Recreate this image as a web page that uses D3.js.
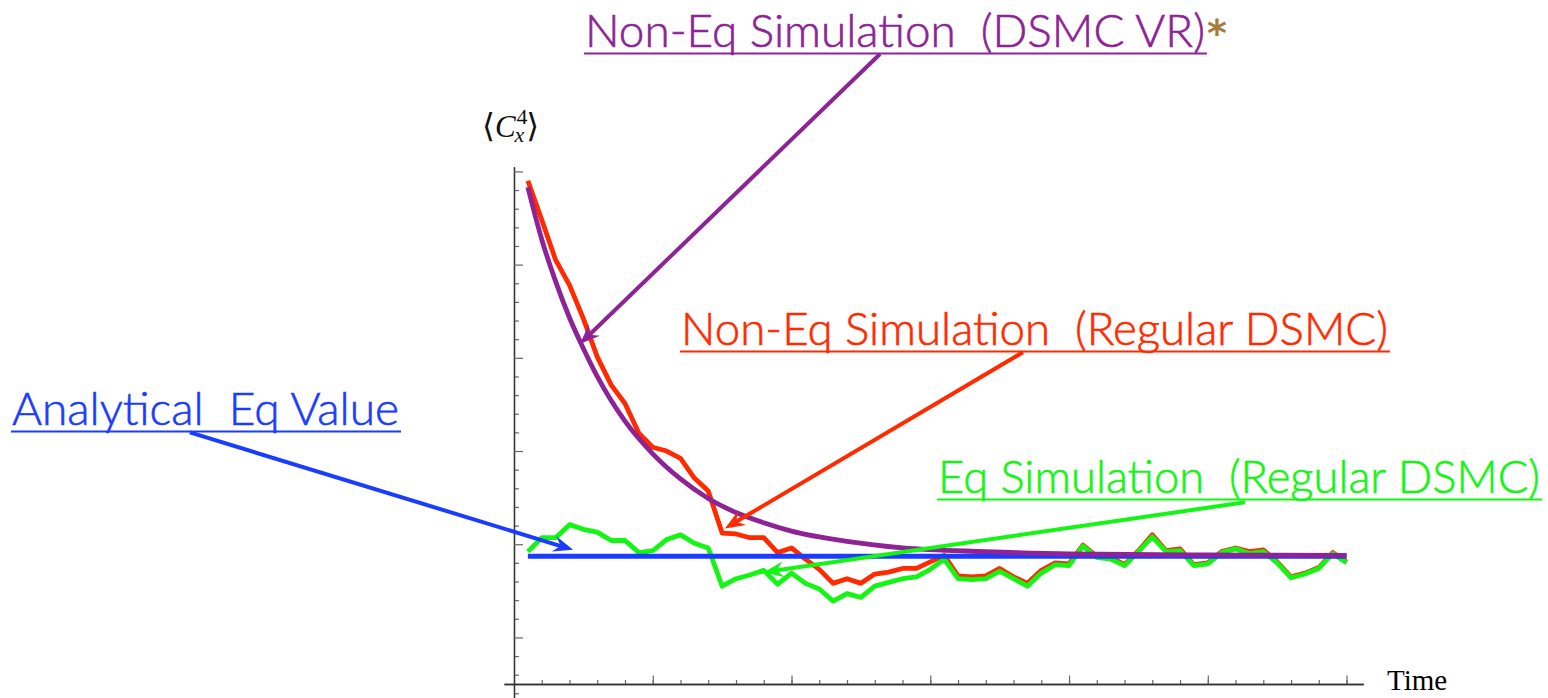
<!DOCTYPE html>
<html>
<head>
<meta charset="utf-8">
<script src="https://cdn.jsdelivr.net/npm/d3@7"></script>
<style>
  body { margin: 0; background: #fff; }
  svg { display: block; }
</style>
</head>
<body>
<div class="chart"></div>
<script>
const w = 1548;
const h = 698;

// time grid of the simulations
const times = [
  0.5, 1, 1.5, 2, 2.5, 3, 3.5, 4, 4.5, 5, 5.5, 6, 6.5, 7, 7.5, 8, 8.5, 9, 9.5, 10,
  10.5, 11, 11.5, 12, 12.5, 13, 13.5, 14, 14.5, 15, 15.5, 16, 16.5, 17, 17.5, 18, 18.5, 19, 19.5, 20,
  20.5, 21, 21.5, 22, 22.5, 23, 23.5, 24, 24.5, 25, 25.5, 26, 26.5, 27, 27.5, 28, 28.5, 29, 29.5, 30
];

// Eq Simulation (Regular DSMC)
const eqSim = [
  1.92, 2.07, 2.07, 2.21, 2.16, 2.13, 2.04, 2.04, 1.91, 1.93,
  2.05, 2.10, 2.01, 1.96, 1.55, 1.63, 1.67, 1.72, 1.57, 1.69,
  1.58, 1.52, 1.39, 1.47, 1.43, 1.55, 1.59, 1.63, 1.65, 1.73,
  1.84, 1.63, 1.62, 1.63, 1.71, 1.63, 1.55, 1.69, 1.78, 1.77,
  1.98, 1.86, 1.84, 1.77, 1.92, 2.08, 1.92, 1.93, 1.77, 1.79,
  1.91, 1.95, 1.90, 1.92, 1.80, 1.64, 1.68, 1.74, 1.90, 1.80
];

// Non-Eq Simulation (Regular DSMC)
const nonEqSim = [
  5.90, 5.48, 5.05, 4.78, 4.42, 4.01, 3.71, 3.51, 3.19, 3.04,
  3.00, 2.92, 2.71, 2.57, 2.12, 2.11, 2.07, 2.07, 1.91, 1.96,
  1.84, 1.73, 1.58, 1.63, 1.58, 1.68, 1.70, 1.74, 1.74, 1.81,
  1.88, 1.66, 1.65, 1.66, 1.74, 1.65, 1.58, 1.72, 1.80, 1.79,
  1.99, 1.87, 1.86, 1.78, 1.93, 2.10, 1.93, 1.95, 1.78, 1.80,
  1.92, 1.96, 1.92, 1.94, 1.81, 1.65, 1.69, 1.75, 1.91, 1.81
];

// Non-Eq Simulation (DSMC VR), smooth curve
const vrTimes = [0.5, 1, 1.5, 2, 2.5, 3, 4, 5, 6, 7, 8, 9, 10, 12, 14, 17, 20, 25, 30];
const vrSim = [5.83, 5.27, 4.82, 4.43, 4.10, 3.80, 3.32, 2.97, 2.70, 2.49, 2.34, 2.23, 2.14, 2.03, 1.96, 1.92, 1.895, 1.885, 1.88];

// Analytical Eq Value
const analyticalEq = 1.87;
const eqRange = [0.5, 30];

const xMinorTicks = d3.range(1, 31);
const xMajorTicks = [5, 10, 15, 20, 25, 30];
const yMinorTicks = [0.4, 0.6, 0.8, 1.2, 1.4, 1.6, 1.8, 2.2, 2.4, 2.6, 2.8, 3.2, 3.4, 3.6, 3.8,
  4.2, 4.4, 4.6, 4.8, 5.2, 5.4, 5.6, 5.8];
const yMajorTicks = [1, 2, 3, 4, 5, 6];

const purple = '#8d2396';
const red = '#ff2a00';
const green = '#14f514';
const blue = '#1a3cff';

const svg = d3
  .select('.chart')
  .append('svg')
  .attr('width', w)
  .attr('height', h);

const xScale = d3.scaleLinear().domain([-0.36, 30.6]).range([504, 1363.2]);
const yScale = d3.scaleLinear().domain([0.35, 6.05]).range([698, 166.76]);

// axes
const xAxisY = yScale(0.5);
const yAxisX = xScale(0);

const xMinor = d3.axisBottom(xScale).tickValues(xMinorTicks).tickSize(-4).tickSizeOuter(0).tickFormat('');
const xMajor = d3.axisBottom(xScale).tickValues(xMajorTicks).tickSize(-8.5).tickSizeOuter(0).tickFormat('');
const yMinor = d3.axisLeft(yScale).tickValues(yMinorTicks).tickSize(-5).tickSizeOuter(0).tickFormat('');
const yMajor = d3.axisLeft(yScale).tickValues(yMajorTicks).tickSize(-9).tickSizeOuter(0).tickFormat('');

[xMinor, xMajor].forEach((ax) => {
  svg.append('g').attr('transform', `translate(0,${xAxisY})`).call(ax);
});
[yMinor, yMajor].forEach((ax) => {
  svg.append('g').attr('transform', `translate(${yAxisX},0)`).call(ax);
});
svg.selectAll('.domain').attr('stroke', '#333').attr('stroke-width', 1.3);
svg.selectAll('.tick line').attr('stroke', '#666').attr('stroke-width', 1.2);

// axis labels
svg.append('text')
  .attr('x', 1387).attr('y', 690)
  .attr('font-family', 'Liberation Serif, Times New Roman, serif')
  .attr('font-size', 29)
  .text('Time');

// <C_x^4> as a single text with tspans
const yl = svg.append('text')
  .attr('x', 482).attr('y', 137)
  .attr('font-family', 'Liberation Serif, DejaVu Serif, serif')
  .attr('font-size', 33)
  .attr('fill', '#111');
yl.append('tspan').text('\u27E8');
yl.append('tspan').attr('font-style', 'italic').attr('font-size', 31).text('C');
yl.append('tspan').attr('font-size', 22).attr('dy', -13).attr('dx', 1).text('4');
yl.append('tspan').attr('font-size', 22).attr('font-style', 'italic').attr('dy', 18).attr('dx', -13).text('x');
yl.append('tspan').attr('dy', -5).attr('dx', 2).text('\u27E9');

// data lines
const line = d3.line().x((d) => xScale(d[0])).y((d) => yScale(d[1]));

svg.append('path')
  .datum(times.map((t, i) => [t, nonEqSim[i]]))
  .attr('d', line)
  .attr('fill', 'none').attr('stroke', red).attr('stroke-width', 4.8).attr('stroke-linejoin', 'round');

svg.append('path')
  .datum(times.map((t, i) => [t, eqSim[i]]))
  .attr('d', line)
  .attr('fill', 'none').attr('stroke', green).attr('stroke-width', 4.8).attr('stroke-linejoin', 'round');

svg.append('path')
  .datum(eqRange.map((t) => [t, analyticalEq]))
  .attr('d', line)
  .attr('fill', 'none').attr('stroke', blue).attr('stroke-width', 5);

svg.append('path')
  .datum(vrTimes.map((t, i) => [t, vrSim[i]]))
  .attr('d', line.curve(d3.curveMonotoneX))
  .attr('fill', 'none').attr('stroke', purple).attr('stroke-width', 4.8);

// labels with arrows (arrow ends in data coordinates)
const notes = [
  { text: 'Non-Eq Simulation  (DSMC VR)', color: purple, x: 585, y: 47, width: 620,
    from: [13.19, 7.26], to: [2.38, 4.15] },
  { text: 'Non-Eq Simulation  (Regular DSMC)', color: red, x: 681, y: 345, width: 707,
    from: [18.34, 4.06], to: [7.6, 2.17] },
  { text: 'Analytical  Eq Value', color: blue, x: 12, y: 425, width: 387,
    from: [-11.68, 3.2], to: [2.13, 1.94] },
  { text: 'Eq Simulation  (Regular DSMC)', color: green, x: 938, y: 493, width: 602,
    from: [26.34, 2.45], to: [9.0, 1.7] }
];

notes.forEach((n) => {
  const x1 = xScale(n.from[0]);
  const y1 = yScale(n.from[1]);
  const x2 = xScale(n.to[0]);
  const y2 = yScale(n.to[1]);
  const ang = Math.atan2(y2 - y1, x2 - x1);
  const L = 20;
  svg.append('line')
    .attr('x1', x1).attr('y1', y1)
    .attr('x2', x2 - Math.cos(ang) * L * 0.6).attr('y2', y2 - Math.sin(ang) * L * 0.6)
    .attr('stroke', n.color).attr('stroke-width', 4);
  svg.append('path')
    .attr('d', `M0,0L${-L},${8}L${-L * 0.65},0L${-L},${-8}Z`)
    .attr('transform', `translate(${x2},${y2}) rotate(${(ang * 180) / Math.PI})`)
    .attr('fill', n.color);

  svg.append('text')
    .attr('x', n.x).attr('y', n.y)
    .attr('font-family', 'Lato, Open Sans, sans-serif')
    .attr('font-weight', 300)
    .attr('font-size', 45)
    .attr('fill', n.color)
    .attr('stroke', n.color)
    .attr('stroke-width', 0.6)
    .attr('textLength', n.width)
    .attr('lengthAdjust', 'spacingAndGlyphs')
    .style('white-space', 'pre')
    .text(n.text);
  svg.append('line')
    .attr('x1', n.x - 1).attr('x2', n.x + n.width + 2)
    .attr('y1', n.y + 6.5).attr('y2', n.y + 6.5)
    .attr('stroke', n.color).attr('stroke-width', 2);
});

svg.append('text')
  .attr('x', 1207).attr('y', 46)
  .attr('font-family', 'DejaVu Sans, sans-serif')
  .attr('font-weight', 'bold')
  .attr('font-size', 38)
  .attr('fill', '#a67c3d')
  .text('*');
</script>
</body>
</html>
